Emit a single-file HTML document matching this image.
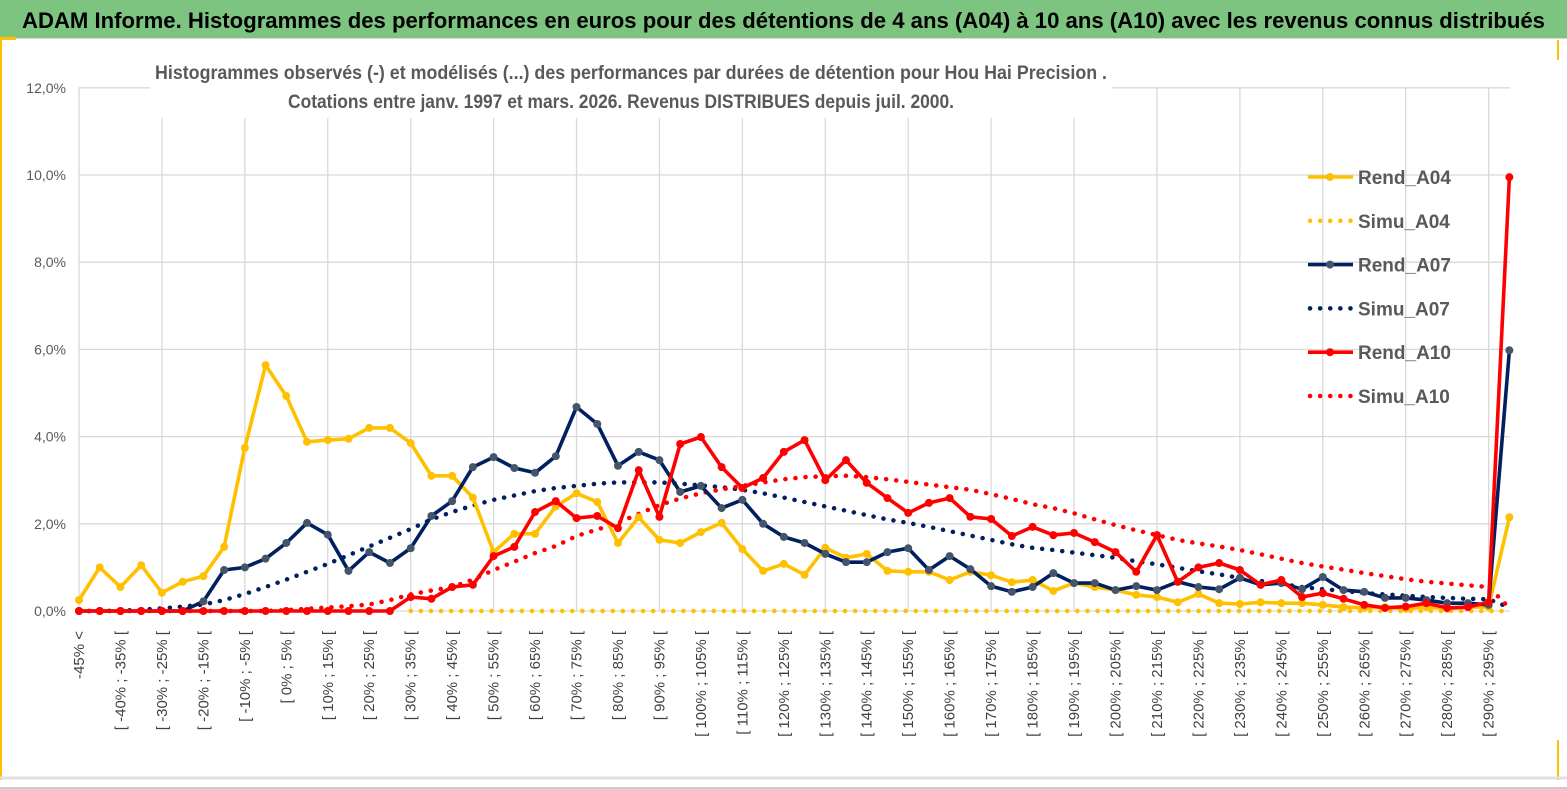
<!DOCTYPE html>
<html><head><meta charset="utf-8"><style>
html,body{margin:0;padding:0;background:#fff;}
svg{display:block;font-family:"Liberation Sans Narrow","Liberation Sans",sans-serif;}
</style></head><body>
<svg id="chart" width="1567" height="789" viewBox="0 0 1567 789">
<rect x="0" y="0" width="1567" height="789" fill="#fff"/>
<rect x="0" y="0" width="1567" height="38" fill="#7cc47f"/>
<line x1="0" y1="38.5" x2="1567" y2="38.5" stroke="#d9d9d9" stroke-width="1"/>
<rect x="0" y="37" width="16" height="3" fill="#ffc000"/>
<text x="22" y="28" font-size="22" font-weight="bold" fill="#000" textLength="1523" lengthAdjust="spacingAndGlyphs">ADAM Informe. Histogrammes des performances en euros pour des détentions de 4 ans (A04) à 10 ans (A10) avec les revenus connus distribués</text>
<line x1="1" y1="40" x2="1" y2="780" stroke="#ffc000" stroke-width="2"/>
<line x1="1558" y1="40" x2="1558" y2="60" stroke="#ffc000" stroke-width="2"/>
<line x1="1558" y1="740" x2="1558" y2="780" stroke="#ffc000" stroke-width="2"/>
<line x1="0" y1="778" x2="1567" y2="778" stroke="#e0e0e0" stroke-width="3"/>
<line x1="0" y1="788" x2="1567" y2="788" stroke="#999" stroke-width="1"/>
<g id="grid"></g>
<g id="yaxis"></g>
<g id="xaxis"></g>
<rect x="150" y="56" width="962" height="62" fill="#fff"/>
<text x="631" y="79" text-anchor="middle" font-size="19" font-weight="bold" fill="#595959" textLength="952" lengthAdjust="spacingAndGlyphs">Histogrammes observés (-) et modélisés (...) des performances par durées de détention pour Hou Hai Precision .</text>
<text x="621" y="108" text-anchor="middle" font-size="19" font-weight="bold" fill="#595959" textLength="666" lengthAdjust="spacingAndGlyphs">Cotations entre janv. 1997 et mars. 2026. Revenus DISTRIBUES depuis juil. 2000.</text>
<g id="series"></g>
<g id="legend"></g>
</svg>
<script>
const rendA04=[0.25,1.0,0.55,1.05,0.42,0.67,0.8,1.47,3.74,5.64,4.93,3.88,3.92,3.95,4.2,4.2,3.85,3.1,3.1,2.6,1.35,1.77,1.77,2.4,2.7,2.5,1.56,2.15,1.63,1.56,1.81,2.02,1.42,0.92,1.08,0.83,1.45,1.22,1.31,0.92,0.9,0.9,0.71,0.9,0.82,0.66,0.71,0.46,0.64,0.55,0.48,0.37,0.32,0.2,0.39,0.18,0.16,0.2,0.18,0.18,0.14,0.09,0.07,0.09,0.05,0.09,0.05,0.09,0.09,2.15];
const simuA04=[0,0,0,0,0,0,0,0,0,0,0,0,0,0,0,0,0,0,0,0,0,0,0,0,0,0,0,0,0,0,0,0,0,0,0,0,0,0,0,0,0,0,0,0,0,0,0,0,0,0,0,0,0,0,0,0,0,0,0,0,0,0,0,0,0,0,0,0,0,0];
const rendA07=[0,0,0,0,0,0,0.22,0.94,1.0,1.2,1.56,2.02,1.75,0.92,1.35,1.1,1.44,2.18,2.52,3.3,3.53,3.28,3.17,3.55,4.68,4.29,3.33,3.65,3.46,2.73,2.87,2.36,2.55,2.0,1.7,1.56,1.31,1.12,1.12,1.35,1.44,0.94,1.26,0.96,0.57,0.44,0.55,0.87,0.64,0.64,0.48,0.57,0.48,0.67,0.55,0.5,0.76,0.6,0.64,0.5,0.78,0.48,0.44,0.3,0.3,0.25,0.18,0.18,0.14,5.98];
const simuA07=[0,0,0.01,0.03,0.06,0.1,0.15,0.25,0.39,0.55,0.72,0.9,1.08,1.28,1.48,1.68,1.88,2.1,2.27,2.42,2.55,2.65,2.75,2.82,2.87,2.92,2.95,2.95,2.95,2.92,2.88,2.84,2.78,2.7,2.6,2.5,2.4,2.3,2.2,2.1,2.02,1.93,1.83,1.73,1.63,1.53,1.45,1.4,1.34,1.28,1.22,1.14,1.07,0.99,0.91,0.84,0.76,0.69,0.62,0.55,0.5,0.46,0.41,0.38,0.35,0.32,0.3,0.28,0.27,0.08];
const rendA10=[0,0,0,0,0,0,0,0,0,0,0,0,0,0,0,0,0.32,0.28,0.55,0.6,1.26,1.47,2.27,2.52,2.13,2.18,1.9,3.23,2.16,3.83,3.99,3.3,2.82,3.05,3.65,3.92,3.0,3.46,2.94,2.59,2.25,2.48,2.59,2.16,2.11,1.72,1.93,1.74,1.79,1.58,1.35,0.9,1.74,0.67,1.0,1.1,0.94,0.6,0.71,0.32,0.41,0.28,0.14,0.07,0.1,0.18,0.07,0.09,0.2,9.95];
const simuA10=[0,0,0,0,0,0,0,0,0,0,0.02,0.05,0.08,0.11,0.15,0.25,0.38,0.47,0.55,0.72,0.94,1.13,1.33,1.49,1.72,1.87,2.02,2.23,2.43,2.58,2.7,2.79,2.87,2.95,3.02,3.07,3.09,3.1,3.07,3.02,2.96,2.9,2.84,2.78,2.68,2.57,2.45,2.36,2.24,2.1,1.97,1.85,1.74,1.63,1.55,1.48,1.4,1.3,1.2,1.1,1.02,0.95,0.87,0.8,0.73,0.67,0.63,0.59,0.55,0.07];
const yTicks=[0,2,4,6,8,10,12];
const yTickLabels=["0,0%","2,0%","4,0%","6,0%","8,0%","10,0%","12,0%"];
const categoryCount=70;
const lowerBounds=[-45,-40,-35,-30,-25,-20,-15,-10,-5,0,5,10,15,20,25,30,35,40,45,50,55,60,65,70,75,80,85,90,95,100,105,110,115,120,125,130,135,140,145,150,155,160,165,170,175,180,185,190,195,200,205,210,215,220,225,230,235,240,245,250,255,260,265,270,275,280,285,290,295];

const NS="http://www.w3.org/2000/svg";
const X0=79, DX=20.73, Y0=611, YS=43.6;
function xs(i){return X0+DX*i;}
function ys(v){return Y0-v*YS;}
function mk(tag,attrs,parent){const e=document.createElementNS(NS,tag);for(const k in attrs)e.setAttribute(k,attrs[k]);parent.appendChild(e);return e;}
const grid=document.getElementById('grid'), yax=document.getElementById('yaxis'), xax=document.getElementById('xaxis');
yTicks.forEach((t,k)=>{
  const l=mk('line',{x1:X0,x2:1510,y1:ys(t),y2:ys(t),stroke:'#d9d9d9','stroke-width':1.3},grid);
  
  
  const tx=mk('text',{x:66,y:ys(t)+5,'text-anchor':'end','font-size':14,fill:'#595959'},yax);
  tx.textContent=yTickLabels[k];
  
  
});
for(let i=0;i<categoryCount;i+=4){
  const l=mk('line',{x1:xs(i),x2:xs(i),y1:ys(12),y2:Y0,stroke:'#d9d9d9','stroke-width':1.3},grid);
  
  
}
for(let i=0;i<categoryCount;i+=2){
  let lab;
  if(i===0) lab='-45% <';
  else lab='[ '+lowerBounds[i-1]+'% ; '+(lowerBounds[i-1]+5)+'% [';
  const x=xs(i)+5, y=631;
  const tx=mk('text',{x:x,y:y,'text-anchor':'end','font-size':15,fill:'#404040',transform:'rotate(-90 '+x+' '+y+')'},xax);
  tx.textContent=lab;
  
  
}
const sg=document.getElementById('series');
function dotted(arr,color,name,startIdx){
  let d='';arr.forEach((v,i)=>{if(i<startIdx)return;d+=(d?'L':'M')+xs(i).toFixed(1)+','+ys(v).toFixed(1);});
  const p=mk('path',{d:d,fill:'none',stroke:color,'stroke-width':4.5,'stroke-linecap':'round','stroke-dasharray':'0.1 10'},sg);
  
  
}
function solid(arr,color,mcolor,name){
  let d='';arr.forEach((v,i)=>{d+=(i?'L':'M')+xs(i).toFixed(1)+','+ys(v).toFixed(1);});
  const p=mk('path',{d:d,fill:'none',stroke:color,'stroke-width':3.6,'stroke-linejoin':'round'},sg);
  
  
  arr.forEach((v,i)=>{
    const c=mk('circle',{cx:xs(i),cy:ys(v),r:4,fill:mcolor},sg);
    
    
  });
}
dotted(simuA04,'#ffc000','simu-a04-line',16);
dotted(simuA07,'#002060','simu-a07-line',0);
dotted(simuA10,'#ff0000','simu-a10-line',0);
solid(rendA04,'#ffc000','#ffc000','rend-a04');
solid(rendA07,'#002060','#44546a','rend-a07');
solid(rendA10,'#ff0000','#ff0000','rend-a10');

const lg=document.getElementById('legend');
const legendItems=[["Rend_A04","#ffc000","#ffc000",false],["Simu_A04","#ffc000","#ffc000",true],["Rend_A07","#002060","#44546a",false],["Simu_A07","#002060","#002060",true],["Rend_A10","#ff0000","#ff0000",false],["Simu_A10","#ff0000","#ff0000",true]];
legendItems.forEach((it,k)=>{
  const y=177+k*43.8;
  const g=mk('g',{},lg);
  
  
  if(it[3]){
    mk('line',{x1:1310,x2:1355,y1:y,y2:y,stroke:it[1],'stroke-width':4.5,'stroke-linecap':'round','stroke-dasharray':'0.1 10'},g);
  }else{
    mk('line',{x1:1308,x2:1353,y1:y,y2:y,stroke:it[1],'stroke-width':3.6},g);
    mk('circle',{cx:1330,cy:y,r:4,fill:it[2]},g);
  }
  const t=mk('text',{x:1358,y:y+7,'font-size':19,'font-weight':'bold',fill:'#595959'},g);
  t.textContent=it[0];
});
</script>
</body></html>
